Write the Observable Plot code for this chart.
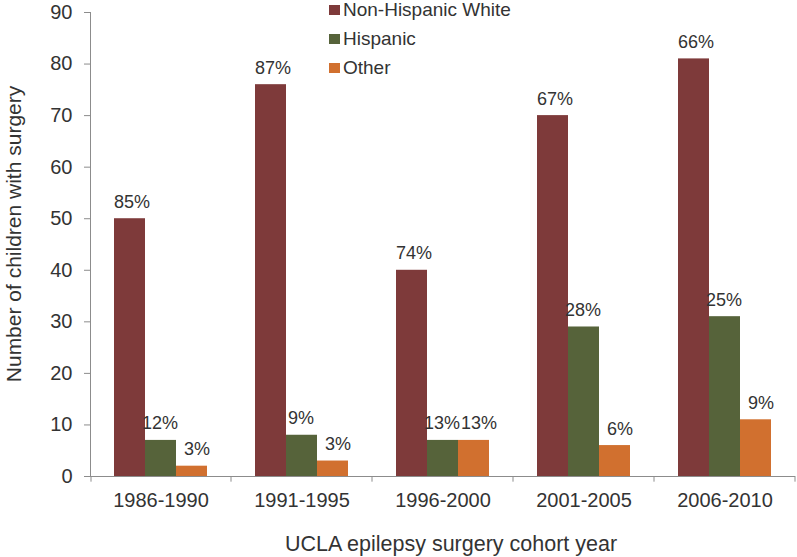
<!DOCTYPE html>
<html>
<head>
<meta charset="utf-8">
<script src="https://cdn.jsdelivr.net/npm/d3@7"></script>
<script src="https://cdn.jsdelivr.net/npm/@observablehq/plot@0.6"></script>
<style>
  body { margin: 0; background: #fff; font-family: "Liberation Sans", Arial, sans-serif; }
  #wrap { position: relative; width: 797px; height: 557px; }
  #legend { position: absolute; left: 329px; top: 0; font-size: 19px; color: #333; }
  #legend .row { position: absolute; left: 0; height: 24px; display: flex; align-items: center; white-space: nowrap; }
  #legend .sw { width: 11px; height: 10px; margin-right: 3px; }
</style>
</head>
<body>
<div id="wrap"><div id="legend"></div></div>
<script>
const cohorts = ["1986-1990", "1991-1995", "1996-2000", "2001-2005", "2006-2010"];
const seriesNames = ["Non-Hispanic White", "Hispanic", "Other"];
const nonHispanicWhite = [50, 76, 40, 70, 81];
const hispanic = [7, 8, 7, 29, 31];
const other = [2, 3, 7, 6, 11];
const nonHispanicWhitePct = ["85%", "87%", "74%", "67%", "66%"];
const hispanicPct = ["12%", "9%", "13%", "28%", "25%"];
const otherPct = ["3%", "3%", "13%", "6%", "9%"];
const yTicks = [0, 10, 20, 30, 40, 50, 60, 70, 80, 90];
const colors = ["#7e3a3a", "#56633a", "#d1702f"];
const xTitle = "UCLA epilepsy surgery cohort year";
const yTitle = "Number of children with surgery";

const valuesBySeries = [nonHispanicWhite, hispanic, other];
const pctBySeries = [nonHispanicWhitePct, hispanicPct, otherPct];
const data = [];
cohorts.forEach((c, i) => {
  seriesNames.forEach((s, j) => {
    data.push({cohort: c, series: s, value: valuesBySeries[j][i], pct: pctBySeries[j][i]});
  });
});

const font = "'Liberation Sans', Arial, sans-serif";
const axisGrey = "#8c8c8c";
const labelDx = {"Non-Hispanic White": 2, "Hispanic": -1, "Other": 5};

const chart = Plot.plot({
  width: 797,
  height: 557,
  marginTop: 12,
  marginBottom: 81,
  marginLeft: 89,
  marginRight: 2,
  style: {fontFamily: font, fontSize: "20px", color: "#333", background: "transparent"},
  fx: {domain: cohorts, padding: 0},
  x: {domain: seriesNames, padding: 0, paddingOuter: 0.74, axis: null},
  y: {domain: [0, 90]},
  color: {domain: seriesNames, range: colors},
  marks: [
    Plot.barY(data, {fx: "cohort", x: "series", y: "value", fill: "series"}),
    ...seriesNames.map(s =>
      Plot.text(data.filter(d => d.series === s), {fx: "cohort", x: "series", y: "value", text: "pct",
        dy: -11, dx: labelDx[s], lineAnchor: "bottom", fontSize: 18, fill: "#333"})),
    Plot.ruleY([0], {stroke: axisGrey}),
    Plot.ruleX(cohorts, {fx: d => d, x: () => "Other", dx: 39, y1: 0, y2: -1.1, stroke: axisGrey}),
    Plot.ruleX([cohorts[0]], {fx: d => d, x: () => "Non-Hispanic White", dx: -39, y1: 0, y2: -1.1, stroke: axisGrey}),
    Plot.frame({anchor: "left", facetAnchor: "left", stroke: axisGrey}),
    Plot.axisY({ticks: yTicks, tickSize: 6, tickPadding: 12, stroke: axisGrey, fill: "#333", fontSize: 20, label: null}),
    Plot.axisFx({anchor: "bottom", tickSize: 0, tickPadding: 16, fill: "#333", fontSize: 20, label: null})
  ]
});

const wrap = document.getElementById("wrap");
wrap.insertBefore(chart, wrap.firstChild);

const svg = d3.select(chart.tagName.toLowerCase() === "svg" ? chart : chart.querySelector("svg"));
svg.append("text")
  .attr("x", 451).attr("y", 551)
  .attr("text-anchor", "middle")
  .attr("fill", "#333")
  .style("font-family", font).style("font-size", "21.5px")
  .text(xTitle);
svg.append("text")
  .attr("transform", "translate(21,234) rotate(-90)")
  .attr("text-anchor", "middle")
  .attr("fill", "#333")
  .style("font-family", font).style("font-size", "21px")
  .text(yTitle);

const legend = document.getElementById("legend");
seriesNames.forEach((s, i) => {
  const row = document.createElement("div");
  row.className = "row";
  row.style.top = (-2 + i * 29) + "px";
  const sw = document.createElement("div");
  sw.className = "sw";
  sw.style.background = colors[i];
  const t = document.createElement("span");
  t.textContent = s;
  row.appendChild(sw);
  row.appendChild(t);
  legend.appendChild(row);
});
</script>
</body>
</html>
